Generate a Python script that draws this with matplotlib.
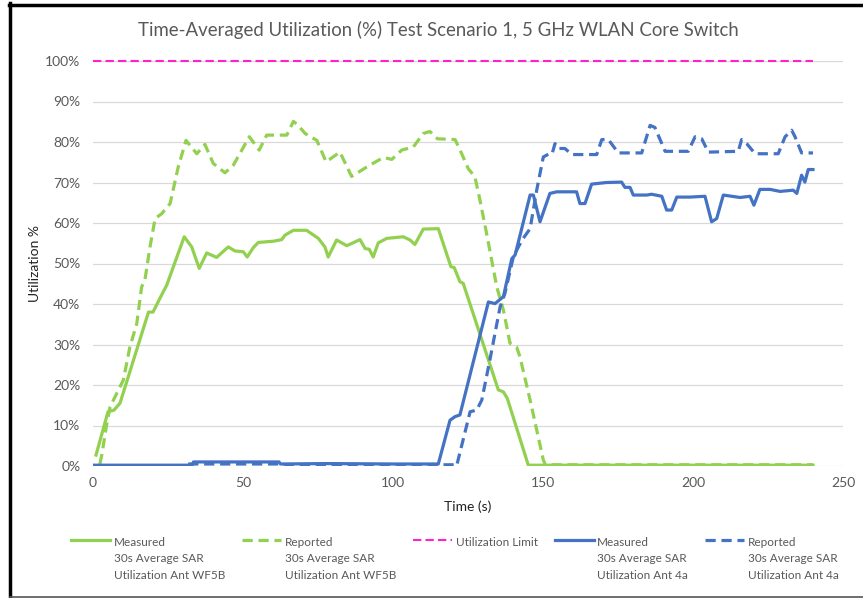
import numpy as np
import matplotlib
matplotlib.use('Agg')
import matplotlib.pyplot as plt
from matplotlib.lines import Line2D
from matplotlib.legend_handler import HandlerLine2D
from matplotlib.ticker import FuncFormatter

plt.rcParams['font.family'] = ['Lato', 'DejaVu Sans']

# Measured 30s average SAR utilization, antenna WF5B
wf5b_meas_t = [1, 5, 7, 9, 18.5, 20, 22.3, 24.6, 30.4, 32.9, 35.4, 37.9, 41.2, 45.1, 47.3,
               50.1, 51.4, 53.4, 55.1, 60.1, 62.9, 64, 66.8, 71.2, 75.1, 77.3, 78.4, 81.2,
               84.6, 89, 90.7, 92.1, 93.4, 95.1, 97.9, 103.4, 105.7, 107.3, 110.1, 115.1,
               119.3, 120.4, 122.3, 123.4, 135.1, 136.8, 138.1, 145.1, 240]
wf5b_meas_v = [2.7, 13.4, 13.8, 15.5, 38, 38, 41.4, 44.7, 56.6, 54.1, 48.8, 52.6, 51.5, 54.1, 53.1,
               52.9, 51.6, 53.9, 55.2, 55.5, 55.9, 57, 58.2, 58.2, 56.2, 54.1, 51.6, 55.8,
               54.4, 55.9, 53.7, 53.5, 51.6, 55.1, 56.2, 56.6, 55.8, 54.7, 58.5, 58.6,
               49.2, 49, 45.5, 45.1, 18.8, 18.3, 16.7, 0.2, 0.2]

# Reported 30s average SAR utilization, antenna WF5B
wf5b_rep_t = [2.3, 3, 4.5, 5.7, 7.9, 10.1, 12.3, 14.6, 16.2, 17.3, 19, 20.7, 22.9, 25.7, 28.4,
              31, 34.6, 37.3, 40.1, 44, 46.8, 52.1, 55.4, 57.9, 64.6, 66.8, 68.4, 70.7, 74.6,
              77.7, 82.3, 86.2, 91.2, 96.8, 99.6, 102.9, 106.8, 110.1, 112.3, 114.8, 120.7,
              122.9, 125.1, 127.3, 129, 131.2, 134.6, 136.8, 139, 141.2, 142.3, 145.7, 150.1,
              150.8, 240]
wf5b_rep_v = [0.5, 3, 10, 14.6, 17.9, 21.2, 29.4, 35.2, 44.2, 45.9, 54.1, 61.1, 62.3, 64.8, 73.8,
              80.4, 77.1, 79.4, 74.7, 72.4, 74.3, 81.3, 78, 81.7, 81.7, 85.1, 84.1, 82.1, 80.4,
              75.1, 77.5, 71.5, 73.8, 76.2, 75.7, 78, 78.8, 82.1, 82.6, 80.8, 80.6,
              77.1, 73.4, 71.4, 65.6, 57.4, 44.2, 38.5, 30.3, 29.4, 27, 16.3, 1.5,
              0.3, 0.3]

# Utilization limit
limit_t = [0, 240]
limit_v = [100, 100]

# Measured 30s average SAR utilization, antenna 4a
ant4a_meas_t = [0, 33, 33.5, 62, 62.5, 78, 100, 115.1, 119, 120.7, 122.3, 131.8, 134, 136.8,
                139.6, 140.7, 145.7, 146.8, 149, 152.3, 154.6, 161.2, 162.3, 164, 166.2, 171.2,
                176.2, 177.3, 179, 180.1, 184.6, 186.2, 189.6, 191.2, 192.9, 194.6, 199, 204,
                206.2, 207.9, 210.1, 215.7, 219, 220.3, 222.3, 225.7, 229, 233.4, 234.6, 236.2,
                237.3, 238.4, 240]
ant4a_meas_v = [0.2, 0.2, 1.0, 1.0, 0.5, 0.6, 0.5, 0.5, 11.3, 12.2, 12.6, 40.5, 40.1, 41.8,
                51.2, 52.1, 66.9, 66.9, 60.3, 67.3, 67.7, 67.7, 64.8, 64.8, 69.6, 70,
                70.1, 68.8, 68.8, 66.9, 66.9, 67.1, 66.6, 63.2, 63.2, 66.4, 66.4, 66.6,
                60.3, 61.1, 66.9, 66.3, 66.6, 64.4, 68.3, 68.3, 67.8, 68.1, 67.3, 71.8,
                70.1, 73.2, 73.2]

# Reported 30s average SAR utilization, antenna 4a
ant4a_rep_t = [0, 30, 30.5, 62, 62.5, 120.5, 121.2, 125.7, 127.9, 129.6, 132.3, 135.7, 137.3,
               140.1, 141.8, 143.4, 145.7, 147.9, 150.1, 151.8, 153, 154, 155.1, 157.3, 159.6,
               167.9, 169.6, 171.8, 175.1, 182.9, 185.7, 187.3, 190.7, 198.4, 200.7, 202.9,
               205.1, 215.1, 216.2, 217.9, 220.7, 228.4, 230.7, 232.9, 234, 236.2, 240]
ant4a_rep_v = [0.1, 0.1, 0.5, 0.5, 0.3, 0.3, 0, 13.4, 13.8, 16.3, 26.2, 39.3, 42.6,
               51.6, 54.1, 56.2, 58.6, 68.1, 76.3, 77, 77, 79.6, 78.4, 78.4, 76.9,
               76.9, 80.6, 80.6, 77.3, 77.3, 84.1, 83.6, 77.7, 77.7, 81.3, 80.8,
               77.5, 77.7, 80.6, 79.6, 77.1, 77.1, 81.3, 82.9, 81.3, 77.3, 77.3]

labels = ['Measured\n30s Average SAR\nUtilization Ant WF5B',
          'Reported\n30s Average SAR\nUtilization Ant WF5B',
          'Utilization Limit\n \n ',
          'Measured\n30s Average SAR\nUtilization Ant 4a',
          'Reported\n30s Average SAR\nUtilization Ant 4a']

GREEN = '#92D050'
BLUE = '#4472C4'
PINK = '#FF22CC'
GREY = '#595959'


class TopLineHandler(HandlerLine2D):
    # put the legend line next to the first text line instead of the middle one
    def __init__(self, shift=0, **kw):
        super().__init__(**kw)
        self.shift = shift

    def create_artists(self, legend, orig_handle, xdescent, ydescent, width, height, fontsize, trans):
        arts = super().create_artists(legend, orig_handle, xdescent, ydescent, width, height, fontsize, trans)
        for a in arts:
            a.set_ydata(np.asarray(a.get_ydata()) + self.shift)
        return arts


fig = plt.figure(figsize=(8.63, 5.98), dpi=100)
ax = fig.add_axes([93 / 863, 132 / 598, 750 / 863, 405 / 598])

l1, = ax.plot(wf5b_meas_t, wf5b_meas_v, color=GREEN, lw=2.3, solid_joinstyle='round')
l2, = ax.plot(wf5b_rep_t, wf5b_rep_v, color=GREEN, lw=2.3, dashes=(3.2, 1.8))
l3, = ax.plot(limit_t, limit_v, color=PINK, lw=1.5, dashes=(4, 2), clip_on=False)
l4, = ax.plot(ant4a_meas_t, ant4a_meas_v, color=BLUE, lw=2.3, solid_joinstyle='round')
l5, = ax.plot(ant4a_rep_t, ant4a_rep_v, color=BLUE, lw=2.3, dashes=(3.2, 1.8))

ax.set_xlim(0, 250)
ax.set_ylim(0, 100)
ax.set_xticks(np.arange(0, 251, 50))
ax.set_yticks(np.arange(0, 101, 10))
ax.yaxis.set_major_formatter(FuncFormatter(lambda v, p: f'{v:.0f}%'))
ax.grid(axis='y', color='#D9D9D9', lw=0.9)
ax.set_axisbelow(True)
for s in ax.spines.values():
    s.set_visible(False)
ax.tick_params(length=0, labelsize=10, labelcolor=GREY, pad=9)
ax.tick_params(axis='x', pad=8)
ax.set_xlabel('Time (s)', fontsize=10, color='#222222', labelpad=8)
ax.set_ylabel('Utilization %', fontsize=10, color='#222222', labelpad=3)

fig.suptitle('Time-Averaged Utilization (%) Test Scenario 1, 5 GHz WLAN Core Switch',
             x=438 / 863, y=1 - 30 / 598, va='center', fontsize=13.4, color=GREY)

hm = {h: TopLineHandler(shift=14) for h in (l1, l2, l3, l4, l5)}
leg = fig.legend([l1, l2, l3, l4, l5], labels, ncol=5, loc='upper center',
                 bbox_to_anchor=(455 / 863, 1 - 526 / 598), frameon=False,
                 fontsize=8.5, handlelength=3.3, handletextpad=0.3, columnspacing=1.45,
                 handler_map=hm)
for t in leg.get_texts():
    t.set_color(GREY)
    t.set_linespacing(1.65)

# chart frame edges as in the screenshot
fig.add_artist(Line2D([10 / 863, 10 / 863], [0, 1 - 3 / 598], color='black', lw=2.5))
fig.add_artist(Line2D([9 / 863, 1], [1 - 4.5 / 598, 1 - 4.5 / 598], color='black', lw=2.5))
fig.add_artist(Line2D([10 / 863, 1], [0.7 / 598, 0.7 / 598], color='#555555', lw=1.2))

fig.savefig('out.png', dpi=100)
